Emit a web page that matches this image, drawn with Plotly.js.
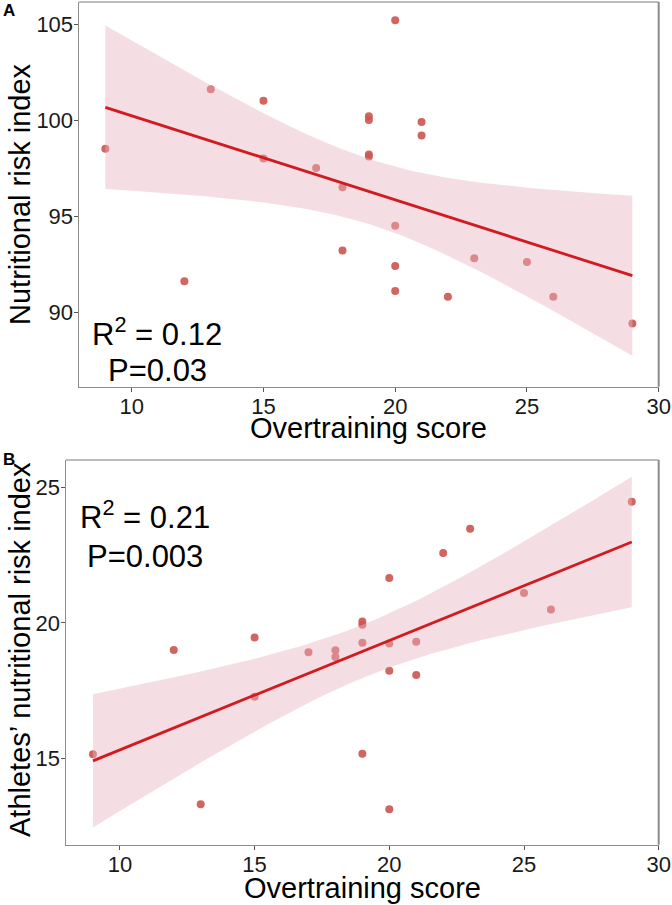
<!DOCTYPE html>
<html>
<head>
<meta charset="utf-8">
<script src="https://cdn.plot.ly/plotly-3.0.1.min.js"></script>
<style>html,body{margin:0;padding:0;background:#fff}#chart{width:672px;height:905px}</style>
</head>
<body>
<div id="chart"></div>
<script>
// ---- data ----
const overtrainingScore = [9,12,13,15,15,17,18,18,19,19,19,19,20,20,20,20,21,21,22,23,25,26,29];
const nutritionalRiskIndex = [98.5,91.6,101.6,101.0,98.0,97.5,96.5,93.2,100.2,100.0,98.2,98.1,105.2,94.5,92.4,91.1,99.9,99.2,90.8,92.8,92.6,90.8,89.4];
const athletesNutritionalRiskIndex = [15.16,19.0,13.32,19.46,17.28,18.92,18.99,18.74,20.05,19.93,19.27,15.18,21.65,19.24,18.24,13.14,19.31,18.08,22.57,23.47,21.10,20.49,24.46];
const panelLabels = ['A','B'];
const statsText = [['R<sup>2</sup> = 0.12','P=0.03'],['R<sup>2</sup> = 0.21','P=0.003']];
const xTitle = 'Overtraining score';
const yTitles = ['Nutritional risk index', 'Athletes\u2019 nutritional risk index'];

// linear fit with 95% confidence band (as geom_smooth(method = "lm"))
const T975_DF21 = 2.0796;
function lmBand(x, y) {
  const n = x.length;
  const mx = x.reduce((a,b)=>a+b,0)/n, my = y.reduce((a,b)=>a+b,0)/n;
  let sxx=0, sxy=0;
  for (let i=0;i<n;i++){ sxx+=(x[i]-mx)**2; sxy+=(x[i]-mx)*(y[i]-my); }
  const b = sxy/sxx, a = my - b*mx;
  let sse=0; for (let i=0;i<n;i++){ sse += (y[i]-(a+b*x[i]))**2; }
  const s = Math.sqrt(sse/(n-2));
  const xmin=Math.min(...x), xmax=Math.max(...x), m=80;
  const gx=[], fy=[], lo=[], hi=[];
  for (let k=0;k<m;k++){
    const g = xmin + (xmax-xmin)*k/(m-1);
    const f = a + b*g;
    const se = s*Math.sqrt(1/n + (g-mx)**2/sxx);
    gx.push(g); fy.push(f); lo.push(f-T975_DF21*se); hi.push(f+T975_DF21*se);
  }
  return {gx, fy, lo, hi};
}

const FONT = 'Liberation Sans, Arial, Helvetica, sans-serif';
const pointColor = 'rgba(205,88,82,0.92)';
const ribbonColor = 'rgba(230,180,192,0.45)';
const lineColor = '#d01b1f';

function panelTraces(y, xa, ya) {
  const band = lmBand(overtrainingScore, y);
  return [
    {type:'scatter', mode:'markers', x:overtrainingScore, y:y, xaxis:xa, yaxis:ya,
     marker:{size:8, color:pointColor}, hoverinfo:'skip', showlegend:false},
    {type:'scatter', mode:'lines', x:band.gx.concat(band.gx.slice().reverse()),
     y:band.hi.concat(band.lo.slice().reverse()), xaxis:xa, yaxis:ya,
     fill:'toself', fillcolor:ribbonColor, line:{width:0, color:'rgba(0,0,0,0)'}, hoverinfo:'skip', showlegend:false},
    {type:'scatter', mode:'lines', x:band.gx, y:band.fy, xaxis:xa, yaxis:ya,
     line:{width:2.8, color:lineColor}, hoverinfo:'skip', showlegend:false}
  ];
}

const data = panelTraces(nutritionalRiskIndex,'x','y').concat(panelTraces(athletesNutritionalRiskIndex,'x2','y2'));

const W=672, H=905;
const px = v => v/W, py = v => 1 - v/H;

function axisBase(standoff) {
  return {showgrid:false, zeroline:false, showline:true, linecolor:'#8c8c8c', linewidth:1.5,
    ticks:'outside', ticklen:4, tickwidth:1, tickcolor:'#555', dtick:5, ticklabelstandoff:standoff,
    tickfont:{family:FONT, size:22, color:'#1a1a1a'}, fixedrange:true};
}

function ann(text, x, y, size, extra) {
  return Object.assign({text:text, xref:'paper', yref:'paper', x:px(x), y:py(y), xanchor:'center', yanchor:'middle',
    showarrow:false, font:{family:FONT, size:size, color:'#000'}}, extra||{});
}

const layout = {
  width:W, height:H, margin:{l:0,r:0,t:0,b:0}, paper_bgcolor:'#fff', plot_bgcolor:'#fff',
  showlegend:false,
  xaxis: Object.assign(axisBase(-5), {domain:[px(79), px(658.7)], range:[8,30], anchor:'y', tick0:10}),
  yaxis: Object.assign(axisBase(-4), {domain:[py(386.7), py(2)], range:[86.11,106.15], anchor:'x', tick0:90}),
  xaxis2: Object.assign(axisBase(-5), {domain:[px(66), px(658.7)], range:[8,30], anchor:'y2', tick0:10}),
  yaxis2: Object.assign(axisBase(-4), {domain:[py(844.7), py(460)], range:[11.83,26.0], anchor:'x2', tick0:15}),
  shapes: [
    {type:'line', xref:'paper', yref:'paper', x0:px(79), x1:px(658.7), y0:py(2), y1:py(2), line:{color:'#bdbdbd', width:2}},
    {type:'line', xref:'paper', yref:'paper', x0:px(658.7), x1:px(658.7), y0:py(2), y1:py(386.7), line:{color:'#8c8c8c', width:2}},
    {type:'line', xref:'paper', yref:'paper', x0:px(66), x1:px(658.7), y0:py(460), y1:py(460), line:{color:'#bdbdbd', width:2}},
    {type:'line', xref:'paper', yref:'paper', x0:px(658.7), x1:px(658.7), y0:py(460), y1:py(844.7), line:{color:'#8c8c8c', width:2}}
  ],
  annotations: [
    ann('<b>'+panelLabels[0]+'</b>', 9, 11, 17),
    ann('<b>'+panelLabels[1]+'</b>', 9, 459, 17),
    ann(xTitle, 368.8, 428, 29),
    ann(xTitle, 362.3, 888, 29),
    ann(yTitles[0], 20, 194, 29, {textangle:-90}),
    ann(yTitles[1], 20, 650, 29, {textangle:-90}),
    ann(statsText[0][0], 157, 332, 31),
    ann(statsText[0][1], 157, 370, 31),
    ann(statsText[1][0], 145, 515, 31),
    ann(statsText[1][1], 145, 556, 31)
  ]
};

Plotly.newPlot('chart', data, layout, {staticPlot:true, displayModeBar:false});
</script>
</body>
</html>
